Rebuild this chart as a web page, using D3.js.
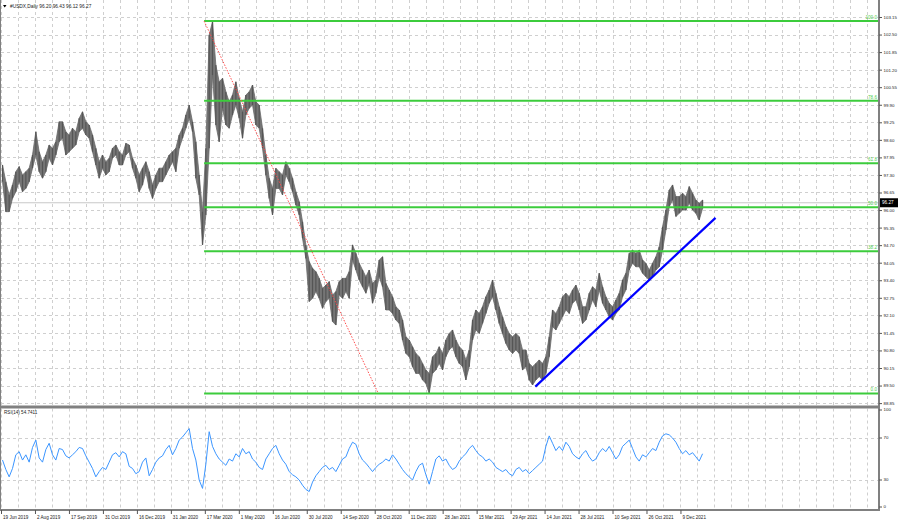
<!DOCTYPE html>
<html><head><meta charset="utf-8">
<script src="https://cdn.jsdelivr.net/npm/d3@7"></script>
<style>
body{margin:0;background:#fff;}
svg{display:block;}
text{font-family:"Liberation Sans",Arial,sans-serif;}
</style>
</head><body>
<svg id="c" width="900" height="522"></svg>
<script>
// ---------------- DATA ----------------
const symbolTitle = "#USDX,Daily 96.20 96.43 96.12 96.27";
const rsiTitle = "RSI(14) 54.7411";
const lastPrice = 96.27;
const dateLabels = ["19 Jun 2019","2 Aug 2019","17 Sep 2019","31 Oct 2019","16 Dec 2019","31 Jan 2020",
  "17 Mar 2020","1 May 2020","16 Jun 2020","30 Jul 2020","14 Sep 2020","28 Oct 2020","11 Dec 2020",
  "28 Jan 2021","15 Mar 2021","29 Apr 2021","14 Jun 2021","28 Jul 2021","10 Sep 2021","26 Oct 2021","9 Dec 2021"];
const priceTicks = [88.85,89.50,90.15,90.80,91.45,92.10,92.75,93.40,94.05,94.70,95.35,96.00,96.65,
  97.30,97.95,98.60,99.25,99.90,100.55,101.20,101.85,102.50,103.15];
const rsiTicks = [0,30,70,100];
const rsiLevels = [30,70];

// highs / lows, one point per ~3 trading days
const highs = [97.67,97.05,96.56,96.93,97.42,97.61,97.30,97.42,97.55,98.04,
 98.90,98.16,97.79,98.04,98.41,98.29,98.53,99.27,99.27,98.90,
 98.78,99.03,98.90,99.40,99.64,99.27,99.15,98.78,98.29,97.79,
 98.04,97.79,97.92,98.29,98.41,98.16,98.04,98.47,98.41,97.92,
 97.67,97.30,97.55,97.79,97.42,96.93,97.30,97.55,97.55,97.79,
 98.04,98.16,98.29,98.78,99.03,99.52,99.89,99.27,98.53,97.30,
 95.94,98.29,102.48,102.98,101.37,100.75,100.88,100.38,100.01,100.26,
 100.75,100.14,99.64,100.26,100.38,100.63,100.01,99.89,99.03,98.04,
 97.18,96.80,97.55,97.42,97.30,97.79,97.55,97.18,96.68,96.31,
 95.57,94.71,94.09,93.84,93.72,93.47,93.10,93.22,93.35,92.85,
 92.98,93.35,93.47,93.47,93.72,
 94.71,94.40,94.03,93.78,93.53,93.78,93.29,93.41,94.15,94.27,
 93.29,93.04,92.79,92.42,92.30,91.93,91.31,91.19,90.94,90.69,
 90.57,90.32,90.08,89.95,90.57,90.69,90.94,90.69,91.19,91.43,
 91.56,91.19,90.94,90.82,90.45,90.82,91.93,92.30,92.17,92.42,
 92.79,93.04,93.41,92.92,92.42,92.05,91.68,91.43,91.31,91.43,
 91.31,90.82,90.82,90.32,90.20,90.32,90.45,90.32,90.57,91.31,
 92.30,92.17,92.42,92.79,92.92,92.79,93.04,93.22,92.92,92.42,
 92.42,92.92,93.16,93.04,93.66,93.16,92.79,92.55,92.42,92.67,
 92.92,93.41,93.66,94.40,94.52,94.40,94.52,94.15,94.03,93.78,
 94.03,94.27,94.64,95.38,96.00,96.74,96.93,96.50,96.50,96.62,
 96.50,96.87,96.62,96.37,96.25,96.37];
const lows = [97.05,95.94,95.94,96.43,96.68,97.05,96.68,96.80,97.05,97.55,
 98.04,97.42,97.18,97.42,97.92,97.67,98.04,98.53,98.66,98.04,
 98.16,98.29,98.41,98.90,99.03,98.78,98.66,98.16,97.67,97.18,
 97.55,97.30,97.42,97.92,98.04,97.67,97.67,98.04,98.16,97.55,
 97.18,96.68,96.93,97.42,96.80,96.43,96.80,97.05,97.05,97.30,
 97.55,97.79,97.42,98.29,98.66,99.03,99.40,98.90,97.18,96.56,
 94.71,95.82,98.29,101.00,99.15,98.53,99.77,99.15,99.03,99.52,
 99.89,99.40,98.66,99.52,99.77,99.89,99.15,99.03,98.29,97.30,
 96.43,95.82,96.80,96.80,96.56,97.30,97.05,96.68,96.19,95.82,
 94.95,94.21,92.61,92.73,92.98,92.73,92.36,92.61,92.73,91.87,
 91.74,92.85,92.73,92.98,92.73,
 94.15,93.78,93.41,93.16,92.92,93.29,92.55,92.92,93.53,93.16,
 92.30,92.30,92.17,91.93,91.80,91.19,90.69,90.57,90.20,89.95,
 89.95,89.71,89.58,89.21,89.95,90.08,90.32,90.08,90.57,90.82,
 90.94,90.57,90.32,90.20,89.71,90.20,91.19,91.56,91.43,91.80,
 92.17,92.55,92.79,92.30,91.80,91.43,91.06,90.82,90.69,90.82,
 90.69,90.08,90.20,89.71,89.52,89.71,89.83,89.71,89.95,90.57,
 91.68,91.56,91.80,92.05,92.30,92.17,92.55,92.67,92.30,91.80,
 91.93,92.30,92.67,92.42,93.04,92.55,92.30,92.05,91.93,92.17,
 92.30,92.79,93.04,93.78,94.03,93.90,93.90,93.66,93.53,93.41,
 93.53,93.78,93.90,94.52,95.26,96.12,96.37,95.76,95.88,96.00,
 96.00,96.25,96.00,95.88,95.63,96.06];
const rsiValues = [49,40,33,41,54,57,49,54,47,61, 68,51,47,59,65,54,49,60,59,53,
 51,54,57,61,60,53,47,41,33,38, 42,40,47,54,56,52,57,55,43,41,
 36,38,47,51,34,40,47,51,53,59, 63,54,60,68,71,75,79,60,49,30,
 22,45,76,62,55,50,47,44,50,48, 55,52,60,55,57,50,47,42,40,50,
 55,60,63,55,49,45,38,35,33,30, 25,21,19,28,34,38,42,44,40,42,
 38,44,50,52,60,66,64,55,49,46, 42,38,42,45,47,50,48,54,50,45,
 40,36,33,30,38,44,46,35,26,38, 50,53,48,50,44,40,42,48,52,55,
 60,63,58,54,52,48,50,47,42,40, 38,40,36,34,40,42,38,40,36,39,
 42,45,48,62,72,65,58,62,58,66, 62,55,52,50,55,58,52,48,50,56,
 60,57,62,56,50,54,62,65,68,60, 52,48,54,52,56,60,58,66,72,74,
 73,70,66,60,55,58,54,56,52,48, 55];

// Fibonacci retracement object & trendline (bar index, price)
const fibLevels = [0, 38.2, 50, 61.8, 78.6, 100];
const fibHigh = {bar:191.3, price:103.00};
const fibLow  = {bar:355.3, price:89.21};
const trendLine = [{bar:503.3, price:89.46},{bar:673, price:95.71}];

// ---------------- LAYOUT ----------------
const BARS_PER_POINT = 3.14;   // time span of one high/low point (trading days)
const BARS_PER_LABEL = 32, BARS_PER_GRID = 16;
const L = 1, R = 879, MAIN_T = 0, MAIN_B = 405.5, RSI_T = 408.5, RSI_B = 510;

const svg = d3.select("#c");
const x = d3.scaleLinear().domain([0, 827]).range([L, R]);
const y = d3.scaleLinear().domain([88.85, 103.15]).range([403.1, 17]);
const yr = d3.scaleLinear().domain([0, 100]).range([511.5, 406.5]);

const defs = svg.append("defs");
defs.append("clipPath").attr("id","cm").append("rect").attr("x",L).attr("y",MAIN_T).attr("width",R-L).attr("height",MAIN_B-MAIN_T);
defs.append("clipPath").attr("id","cr").append("rect").attr("x",L).attr("y",RSI_T).attr("width",R-L).attr("height",RSI_B-RSI_T);

const gridColor = "#cfcfcf";
const gridDash = "3,3";
const gridBars = d3.range(0, 828, BARS_PER_GRID);

// main grid
const gm = svg.append("g").attr("clip-path","url(#cm)");
gm.selectAll("line.v").data(gridBars).join("line")
  .attr("x1",d=>Math.round(x(d))+0.5).attr("x2",d=>Math.round(x(d))+0.5)
  .attr("y1",MAIN_T).attr("y2",MAIN_B)
  .attr("stroke",gridColor).attr("stroke-dasharray",gridDash);
gm.selectAll("line.h").data(priceTicks).join("line")
  .attr("x1",L).attr("x2",R)
  .attr("y1",d=>Math.round(y(d))+0.5).attr("y2",d=>Math.round(y(d))+0.5)
  .attr("stroke",gridColor).attr("stroke-dasharray",gridDash);

// rsi grid
const gr = svg.append("g").attr("clip-path","url(#cr)");
gr.selectAll("line.v").data(gridBars).join("line")
  .attr("x1",d=>Math.round(x(d))+0.5).attr("x2",d=>Math.round(x(d))+0.5)
  .attr("y1",RSI_T).attr("y2",RSI_B)
  .attr("stroke",gridColor).attr("stroke-dasharray",gridDash);
gr.selectAll("line.h").data(rsiLevels).join("line")
  .attr("x1",L).attr("x2",R)
  .attr("y1",d=>Math.round(yr(d))+0.5).attr("y2",d=>Math.round(yr(d))+0.5)
  .attr("stroke",gridColor).attr("stroke-dasharray",gridDash);

// bid line
gm.append("line").attr("x1",L).attr("x2",R)
  .attr("y1",y(lastPrice)).attr("y2",y(lastPrice))
  .attr("stroke","#c8c8c8").attr("stroke-width",1);

// price band (high/low of each point)
const pts = highs.map((h,i)=>({b:i*BARS_PER_POINT, h, l:lows[i]}));
gm.append("path").datum(pts)
  .attr("d", d3.area().x(d=>x(d.b)+1.5).y0(d=>y(d.l)).y1(d=>y(d.h)).curve(d3.curveLinear))
  .attr("fill","#767676").attr("stroke","#6a6a6a").attr("stroke-width",0.8);
gm.append("g").selectAll("line").data(pts).join("line")
  .attr("x1",d=>x(d.b)+1.5).attr("x2",d=>x(d.b)+1.5)
  .attr("y1",d=>y(d.h)).attr("y2",d=>y(d.l))
  .attr("stroke","#555").attr("stroke-width",1.2);

// Fibonacci levels
const fibX0 = x(Math.min(fibHigh.bar, fibLow.bar));
const fibData = fibLevels.map(lv=>({lv, p: fibLow.price + (fibHigh.price - fibLow.price)*lv/100}));
gm.selectAll("line.fib").data(fibData).join("line")
  .attr("x1",fibX0).attr("x2",R)
  .attr("y1",d=>y(d.p)).attr("y2",d=>y(d.p))
  .attr("stroke","#3ccc3c").attr("stroke-width",2);
gm.selectAll("text.fib").data(fibData).join("text")
  .attr("x",R-2).attr("y",d=>y(d.p)-2)
  .attr("text-anchor","end").attr("font-size",4.6).attr("fill","#4fcf4f")
  .text(d=>d.lv.toFixed(1));

// red dotted diagonal of the fib object
gm.append("line")
  .attr("x1",x(fibHigh.bar)).attr("y1",y(fibHigh.price))
  .attr("x2",x(fibLow.bar)).attr("y2",y(fibLow.price))
  .attr("stroke","#ff4d4d").attr("stroke-width",1).attr("stroke-dasharray","1.5,1.5");

// blue trendline
gm.append("line")
  .attr("x1",x(trendLine[0].bar)).attr("y1",y(trendLine[0].price))
  .attr("x2",x(trendLine[1].bar)).attr("y2",y(trendLine[1].price))
  .attr("stroke","#0000ff").attr("stroke-width",2.2);

// RSI line
gr.append("path").datum(rsiValues)
  .attr("d", d3.line().x((d,i)=>x(i*BARS_PER_POINT)+1.5).y(d=>yr(d)))
  .attr("fill","none").attr("stroke","#3b95ff").attr("stroke-width",1);

// borders
const bc = "#808080";
svg.append("line").attr("x1",0.5).attr("x2",0.5).attr("y1",0).attr("y2",RSI_B).attr("stroke",bc);
svg.append("line").attr("x1",R).attr("x2",R).attr("y1",0).attr("y2",RSI_B+1).attr("stroke",bc).attr("stroke-width",2);
svg.append("line").attr("x1",0).attr("x2",R).attr("y1",407).attr("y2",407).attr("stroke",bc).attr("stroke-width",3);
svg.append("line").attr("x1",0).attr("x2",R).attr("y1",RSI_B).attr("y2",RSI_B).attr("stroke",bc).attr("stroke-width",2);

// price axis
const pa = svg.append("g").attr("transform",`translate(${R},0)`)
  .call(d3.axisRight(y).tickValues(priceTicks).tickSize(3).tickPadding(1.5).tickFormat(d3.format(".2f")));
pa.select(".domain").remove();
pa.selectAll("line").attr("stroke","#555");
pa.selectAll("text").attr("font-size",4.4).attr("fill","#222").attr("font-family","Liberation Sans, Arial, sans-serif");

// last price box
const lpY = y(lastPrice);
svg.append("rect").attr("x",R+1).attr("y",lpY-4.5).attr("width",18).attr("height",9).attr("fill","#000");
svg.append("text").attr("x",R+3).attr("y",lpY).attr("dy","0.34em").attr("font-size",4.6)
  .attr("fill","#fff").text(lastPrice.toFixed(2));

// rsi axis
const ra = svg.append("g").attr("transform",`translate(${R},0)`)
  .call(d3.axisRight(yr).tickValues(rsiTicks).tickSize(3).tickPadding(1.5).tickFormat(d3.format("d")));
ra.select(".domain").remove();
ra.selectAll("line").attr("stroke","#555");
ra.selectAll(".tick").attr("transform",d=>`translate(0,${Math.min(507,Math.max(410,yr(d)))})`);
ra.selectAll("text").attr("font-size",4.4).attr("fill","#222").attr("font-family","Liberation Sans, Arial, sans-serif");

// time axis
const tickBars = dateLabels.map((d,i)=>i*BARS_PER_LABEL);
const ta = svg.append("g").attr("transform",`translate(0,${RSI_B})`)
  .call(d3.axisBottom(x).tickValues(tickBars).tickSize(4).tickFormat((d,i)=>dateLabels[i]));
ta.select(".domain").remove();
ta.selectAll("line").attr("stroke","#555");
ta.selectAll("text").attr("text-anchor","start").attr("dx",1.5).attr("y",5.5)
  .attr("font-size",4.6).attr("fill","#222").attr("font-family","Liberation Sans, Arial, sans-serif");

// titles
svg.append("path").attr("d","M3,5 L6.5,5 L4.75,7.5 Z").attr("fill","#000");
svg.append("text").attr("x",10).attr("y",8).attr("font-size",4.8).attr("fill","#222").text(symbolTitle);
svg.append("text").attr("x",4).attr("y",414).attr("font-size",4.6).attr("fill","#222").text(rsiTitle);
</script>
</body></html>
